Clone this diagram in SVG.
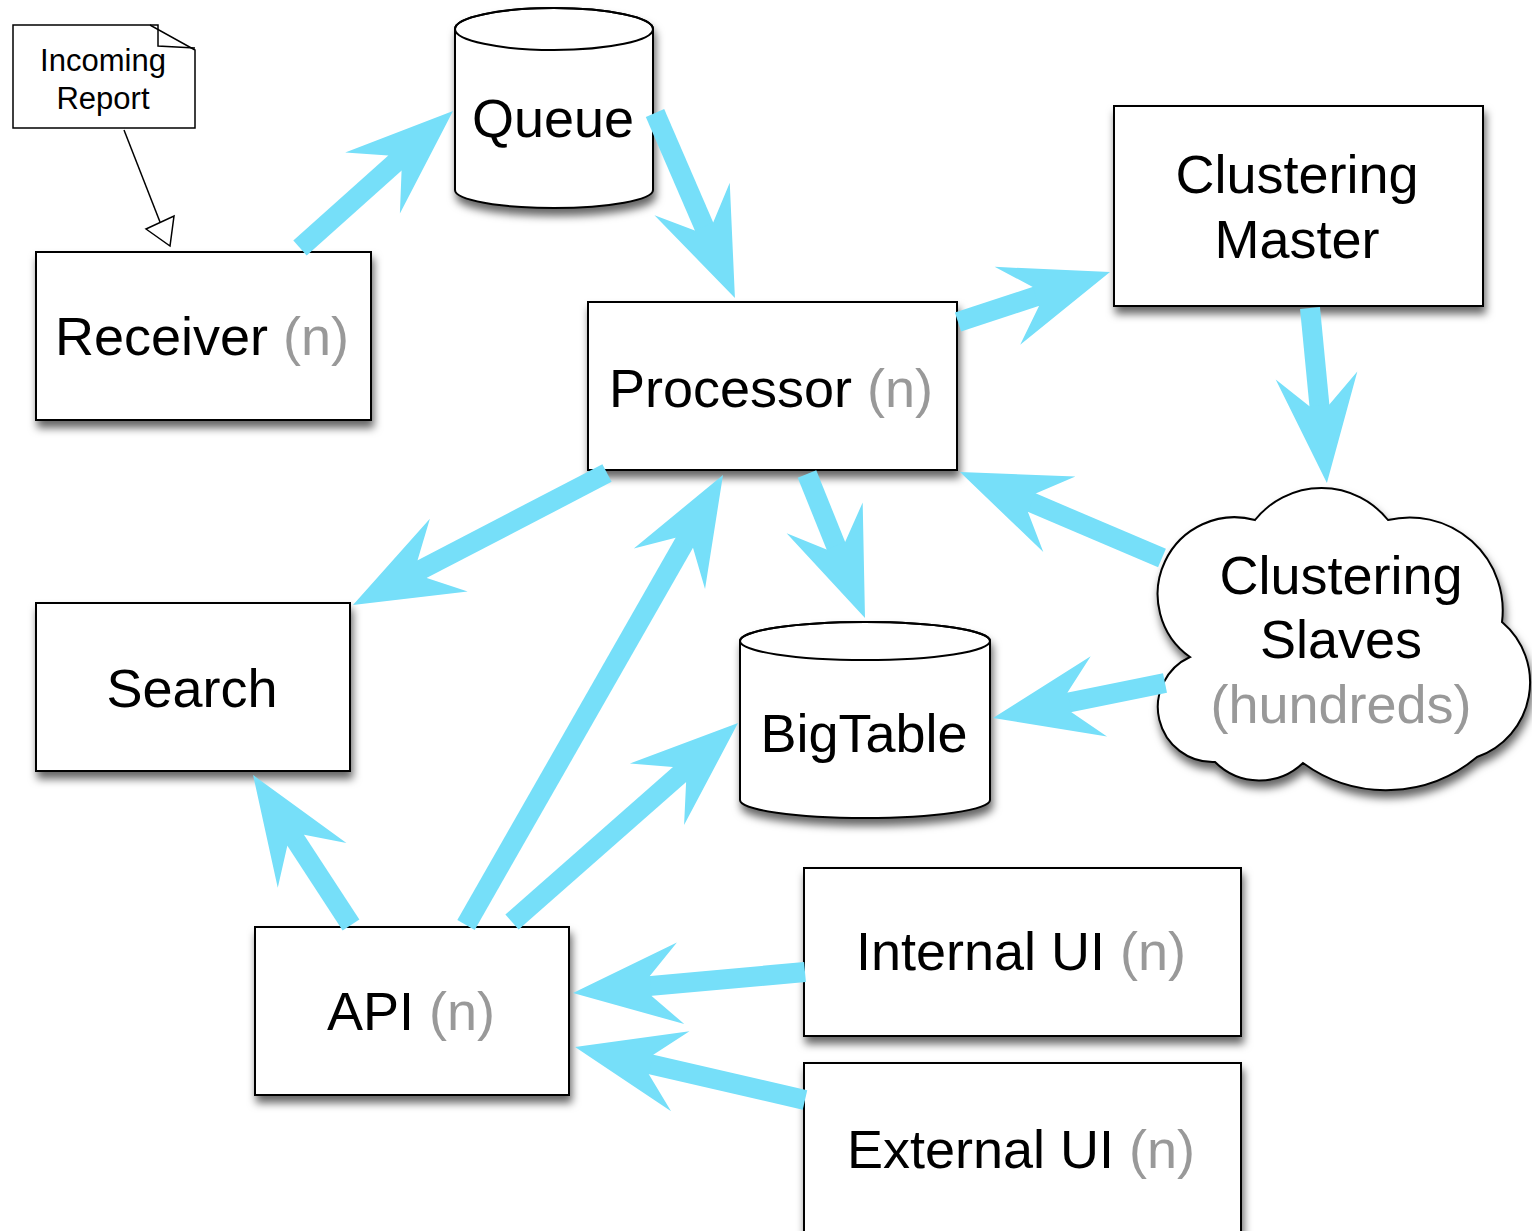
<svg xmlns="http://www.w3.org/2000/svg" width="1532" height="1231" viewBox="0 0 1532 1231">
<defs>
<filter id="sh" x="-20%" y="-20%" width="140%" height="150%">
<feDropShadow dx="2" dy="7" stdDeviation="4" flood-color="#000" flood-opacity="0.6"/>
</filter>
<marker id="big" viewBox="-112 -45 120 90" refX="-76" refY="0" markerWidth="120" markerHeight="90" markerUnits="userSpaceOnUse" orient="auto" overflow="visible">
<path d="M0,0 L-108,-41 L-78,-10 L-78,10 L-108,41 Z" fill="#76DFF9"/>
</marker>
</defs>
<style>
.box{fill:#fff;stroke:#000;stroke-width:2;filter:url(#sh)}
.t{font-family:"Liberation Sans",Arial,sans-serif;font-size:54px;fill:#000;text-anchor:middle}
.g{fill:#999}
.s{font-family:"Liberation Sans",Arial,sans-serif;font-size:31px;fill:#000;text-anchor:middle}
.c{stroke:#76DFF9;stroke-width:20;fill:none;marker-end:url(#big)}
</style>
<rect width="1532" height="1231" fill="#fff"/>

<g id="note">
<path d="M13,25 L150,25 L195,50 L195,128 L13,128 Z" fill="#fff" stroke="#000" stroke-width="1.5"/>
<path d="M150,25 L158,25 L158,46 L195,48" fill="none" stroke="#000" stroke-width="1.5"/>
<text class="s" x="103" y="71">Incoming</text>
<text class="s" x="103" y="109">Report</text>
</g>

<g id="receiver">
<rect class="box" x="36" y="252" width="335" height="168"/>
<text class="t" x="202" y="355">Receiver <tspan class="g">(n)</tspan></text>
</g>

<g id="queue">
<path class="box" d="M455,29 L455,190 A99,18 0 0 0 653,190 L653,29 A99,21 0 0 0 455,29 Z"/>
<ellipse cx="554" cy="29" rx="99" ry="21" fill="none" stroke="#000" stroke-width="2"/>
<text class="t" x="553" y="137">Queue</text>
</g>

<g id="processor">
<rect class="box" x="588" y="302" width="369" height="168"/>
<text class="t" x="771" y="407">Processor <tspan class="g">(n)</tspan></text>
</g>

<g id="clustering-master">
<rect class="box" x="1114" y="106" width="369" height="200"/>
<text class="t" x="1297" y="193">Clustering</text>
<text class="t" x="1297" y="258">Master</text>
</g>

<g id="search">
<rect class="box" x="36" y="603" width="314" height="168"/>
<text class="t" x="192" y="707">Search</text>
</g>

<g id="bigtable">
<path class="box" d="M740,641 L740,800 A125,18 0 0 0 990,800 L990,641 A125,19 0 0 0 740,641 Z"/>
<ellipse cx="865" cy="641" rx="125" ry="19" fill="none" stroke="#000" stroke-width="2"/>
<text class="t" x="864" y="752">BigTable</text>
</g>

<g id="clustering-slaves">
<path class="box" d="M1255,520 A85,85 0 0 1 1388,520 A93,93 0 0 1 1502,622 A79,79 0 0 1 1477,757 A141,141 0 0 1 1303,763 A63,63 0 0 1 1215,762 A55,55 0 0 1 1190,657 A77,77 0 0 1 1255,520 Z"/>
<text class="t" x="1341" y="594">Clustering</text>
<text class="t" x="1341" y="658">Slaves</text>
<text class="t g" x="1341" y="723">(hundreds)</text>
</g>

<g id="api">
<rect class="box" x="255" y="927" width="314" height="168"/>
<text class="t" x="411" y="1030">API <tspan class="g">(n)</tspan></text>
</g>

<g id="internal-ui">
<rect class="box" x="804" y="868" width="437" height="168"/>
<text class="t" x="1021" y="970">Internal UI <tspan class="g">(n)</tspan></text>
</g>

<g id="external-ui">
<rect class="box" x="804" y="1063" width="437" height="190"/>
<text class="t" x="1021" y="1168">External UI <tspan class="g">(n)</tspan></text>
</g>

<g id="connectors">
<line x1="124" y1="130" x2="160" y2="222" stroke="#000" stroke-width="1.5"/>
<polygon points="146,229 174,216 170,246" fill="#fff" stroke="#000" stroke-width="1.5"/>
<line class="c" x1="300" y1="248" x2="396.4" y2="161.7"/>
<line class="c" x1="655" y1="113" x2="704.8" y2="228.3"/>
<line class="c" x1="958" y1="322" x2="1037.8" y2="295.8"/>
<line class="c" x1="1310" y1="308" x2="1319.6" y2="407.4"/>
<line class="c" x1="607" y1="473" x2="420.4" y2="570"/>
<line class="c" x1="466" y1="925" x2="685.3" y2="541"/>
<line class="c" x1="807" y1="474" x2="836.6" y2="547.5"/>
<line class="c" x1="1162" y1="558" x2="1029.9" y2="501.8"/>
<line class="c" x1="1165" y1="683" x2="1067.5" y2="702.8"/>
<line class="c" x1="351" y1="925" x2="294.6" y2="838.6"/>
<line class="c" x1="512" y1="922" x2="681" y2="773.2"/>
<line class="c" x1="805" y1="972" x2="648.7" y2="986.1"/>
<line class="c" x1="805" y1="1100" x2="649.1" y2="1064.1"/>
</g>
</svg>
